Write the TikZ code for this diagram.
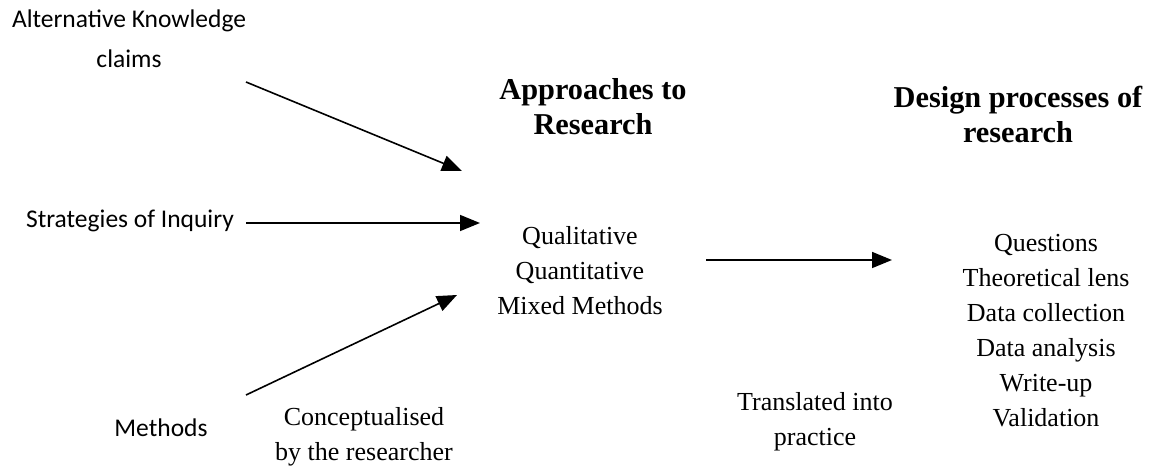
\documentclass[tikz,border=0pt]{standalone}
\usepackage{fontspec}
\setmainfont{Liberation Serif}
\newfontfamily\calib{Carlito}
\usetikzlibrary{arrows.meta}
\begin{document}
\begin{tikzpicture}[x=1pt,y=-1pt,
  sanslabel/.style={font=\calib\fontsize{25.5}{40}\selectfont, align=center, inner sep=0pt},
  seriflabel/.style={font=\fontsize{26}{35}\selectfont, align=center, inner sep=0pt},
  heading/.style={font=\bfseries\fontsize{30.3}{35}\selectfont, align=center, inner sep=0pt},
  flow/.style={line width=1.6pt, -{Triangle[length=20pt,width=16pt]}}]
\useasboundingbox (0,0) rectangle (1154,470);

% inputs on the left
\node[sanslabel, anchor=north] (akc) at (129,10) {Alternative Knowledge\\claims};
\node[sanslabel] (soi) at (130,221) {Strategies of Inquiry};
\node[sanslabel, anchor=north] (meth) at (161,419) {Methods};

% approaches
\node[heading, anchor=north] (appr) at (593,78) {Approaches to\\Research};
\node[seriflabel] (qqm) at (580,271) {Qualitative\\Quantitative\\Mixed Methods};

% design processes
\node[heading, anchor=north] (design) at (1018,86) {Design processes of\\research};
\node[seriflabel, anchor=north] (steps) at (1046,234) {Questions\\Theoretical lens\\Data collection\\Data analysis\\Write-up\\Validation};

% captions under the arrows
\node[seriflabel, anchor=north] (concept) at (364,407) {Conceptualised\\by the researcher};
\node[seriflabel, anchor=north] (transl) at (815,392) {Translated into\\practice};

% arrow end points
\coordinate (a1s) at (246,82);
\coordinate (a1e) at (462,171);
\coordinate (a2s) at (246,223);
\coordinate (a2e) at (480,223);
\coordinate (a3s) at (246,395);
\coordinate (a3e) at (457,295);
\coordinate (a4s) at (706,260);
\coordinate (a4e) at (892,260);

\draw[flow] (a1s) -- (a1e);
\draw[flow] (a2s) -- (a2e);
\draw[flow] (a3s) -- (a3e);
\draw[flow] (a4s) -- (a4e);
\end{tikzpicture}
\end{document}
